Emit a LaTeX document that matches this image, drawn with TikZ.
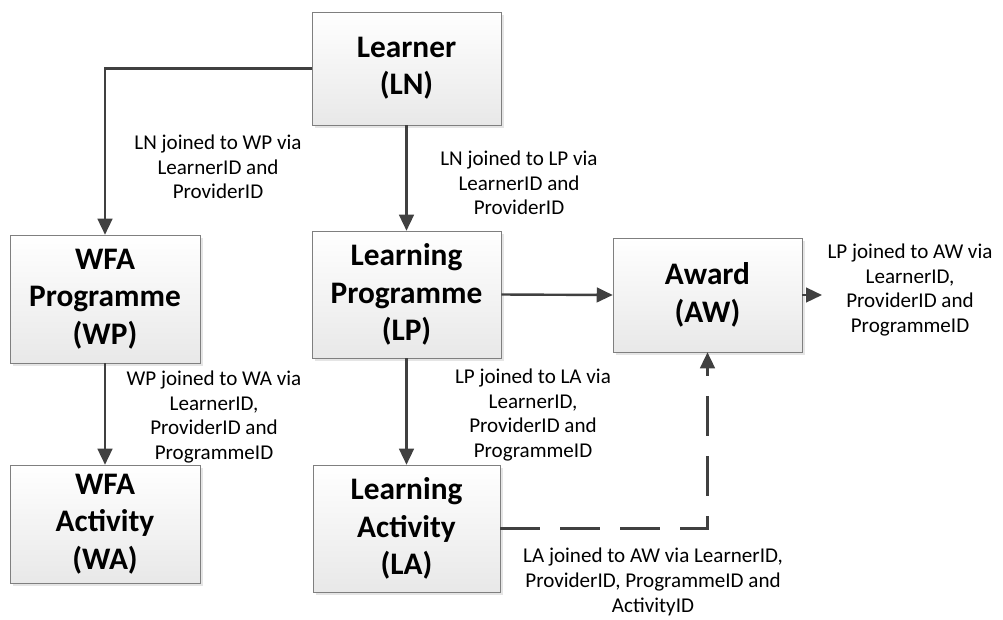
\documentclass[tikz,border=0pt]{standalone}
\usepackage{fontspec}
\setmainfont{Carlito}
\usepackage{xcolor}
\usepackage{tikz}
\usetikzlibrary{shapes,arrows.meta}
\usetikzlibrary{positioning}
\usetikzlibrary{shadows}

\definecolor{boxline}{HTML}{7F7F7F}
\definecolor{arrowgray}{HTML}{404040}

\tikzset{
  entity/.style={rectangle,draw=boxline,thin,top color=white,bottom color=gray!18,
    drop shadow={shadow xshift=2.5pt,shadow yshift=-2.5pt,fill=gray!40},
    align=center,font=\bfseries\fontsize{23.5}{28}\selectfont,inner sep=0pt},
  joinline/.style={draw=arrowgray,line width=1.8pt,-{Triangle[length=12pt,width=11pt]}},
  via/.style={align=center,font=\fontsize{15.8}{18.5}\selectfont,inner sep=0pt}
}

\begin{document}
\begin{tikzpicture}[x=0.75pt,y=-0.75pt]
        \useasboundingbox (0,0) rectangle (1003,619);
        % tables
        \node[entity,minimum width=141.75pt,minimum height=84.75pt] (LN) at (406.5,68.5) {Learner\\(LN)};
        \node[entity,minimum width=142.5pt,minimum height=96pt] (WP) at (105,299) {WFA\\Programme\\(WP)};
        \node[entity,minimum width=141.75pt,minimum height=95.25pt] (LP) at (406.5,294.5) {Learning\\Programme\\(LP)};
        \node[entity,minimum width=141.75pt,minimum height=85.5pt] (AW) at (707.5,295) {Award\\(AW)};
        \node[entity,minimum width=142.5pt,minimum height=88.5pt] (WA) at (105,524) {WFA\\Activity\\(WA)};
        \node[entity,minimum width=140.25pt,minimum height=95.25pt] (LA) at (406.5,528.5) {Learning\\Activity\\(LA)};
        \coordinate (awout) at (822,295);
        % joins
        \draw[joinline] (LN.west) -| (WP.north);
        \draw[joinline] (LN.south) -- (LP.north);
        \draw[joinline] (LP.east) -- (AW.west);
        \draw[joinline] (AW.east) -- (awout);
        \draw[joinline] (LP.south) -- (LA.north);
        \draw[joinline] (WP.south) -- (WA.north);
        \draw[joinline,dash pattern=on 30pt off 15pt] (LA.east) -| (AW.south);
        % join labels
        \node[via] (lnwp) at (218,167) {LN joined to WP via\\LearnerID and\\ProviderID};
        \node[via] (lnlp) at (519,183) {LN joined to LP via\\LearnerID and\\ProviderID};
        \node[via] (lpaw) at (910,290) {LP joined to AW via\\LearnerID,\\ProviderID and\\ProgrammeID};
        \node[via] (lpla) at (533,415) {LP joined to LA via\\LearnerID,\\ProviderID and\\ProgrammeID};
        \node[via] (wpwa) at (214,417) {WP joined to WA via\\LearnerID,\\ProviderID and\\ProgrammeID};
        \node[via] (laaw) at (653,582) {LA joined to AW via LearnerID,\\ProviderID, ProgrammeID and\\ActivityID};
\end{tikzpicture}
\end{document}
